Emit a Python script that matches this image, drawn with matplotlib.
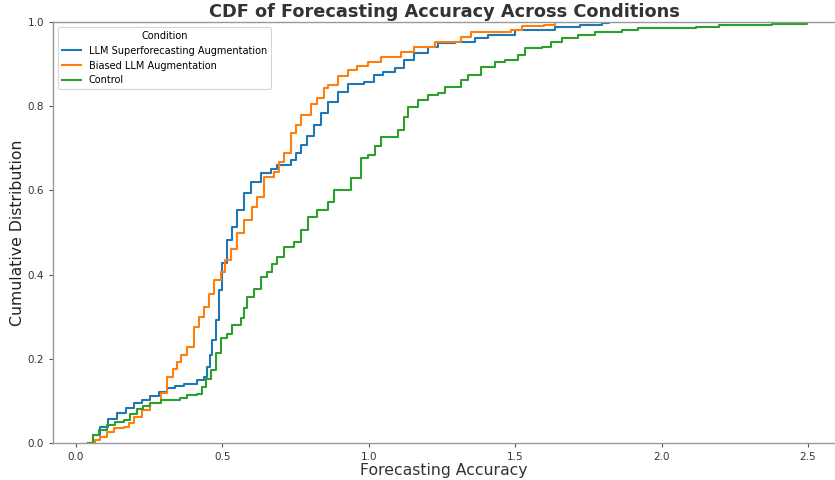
import matplotlib
matplotlib.use("Agg")
import matplotlib.pyplot as plt

# Read-off CDF knots (accuracy value, cumulative share)
conditions = ["LLM Superforecasting Augmentation", "Biased LLM Augmentation", "Control"]
colors = ["#1f77b4", "#ff7f0e", "#2ca02c"]

super_x = [0.043, 0.06, 0.083, 0.11, 0.14, 0.17, 0.197, 0.225, 0.254, 0.285,
           0.312, 0.34, 0.368, 0.414, 0.437, 0.449, 0.458, 0.466, 0.477, 0.488,
           0.5, 0.517, 0.534, 0.551, 0.574, 0.597, 0.631, 0.665, 0.688, 0.734,
           0.75, 0.768, 0.79, 0.814, 0.837, 0.86, 0.894, 0.928, 0.985, 1.019,
           1.05, 1.088, 1.122, 1.156, 1.202, 1.237, 1.293, 1.362, 1.408, 1.499,
           1.636, 1.72, 1.796, 1.82]
super_y = [0, 0.02, 0.039, 0.058, 0.072, 0.083, 0.094, 0.103, 0.112, 0.122,
           0.130, 0.135, 0.140, 0.150, 0.156, 0.181, 0.21, 0.244, 0.292, 0.363,
           0.427, 0.482, 0.514, 0.553, 0.593, 0.621, 0.642, 0.650, 0.660, 0.672,
           0.688, 0.708, 0.73, 0.755, 0.785, 0.811, 0.834, 0.853, 0.858, 0.874,
           0.882, 0.890, 0.910, 0.926, 0.941, 0.951, 0.953, 0.962, 0.970, 0.981,
           0.989, 0.993, 0.997, 1.0]

biased_x = [0.049, 0.065, 0.083, 0.105, 0.129, 0.163, 0.18, 0.197, 0.225, 0.254,
            0.289, 0.312, 0.33, 0.346, 0.36, 0.38, 0.403, 0.42, 0.437, 0.455,
            0.471, 0.494, 0.51, 0.528, 0.55, 0.574, 0.6, 0.620, 0.642, 0.677,
            0.695, 0.711, 0.734, 0.75, 0.768, 0.802, 0.825, 0.848, 0.86, 0.894,
            0.928, 0.96, 0.997, 1.042, 1.111, 1.156, 1.225, 1.316, 1.350, 1.487,
            1.522, 1.6, 1.636]
biased_y = [0, 0.008, 0.015, 0.026, 0.035, 0.037, 0.048, 0.062, 0.078, 0.094,
            0.118, 0.158, 0.175, 0.193, 0.21, 0.229, 0.276, 0.30, 0.324, 0.355,
            0.387, 0.406, 0.435, 0.462, 0.498, 0.530, 0.56, 0.585, 0.633, 0.644,
            0.668, 0.688, 0.736, 0.755, 0.780, 0.805, 0.819, 0.843, 0.85, 0.872,
            0.886, 0.896, 0.906, 0.918, 0.929, 0.941, 0.953, 0.964, 0.977, 0.981,
            0.990, 0.994, 1.0]

control_x = [0.043, 0.060, 0.08, 0.106, 0.135, 0.163, 0.185, 0.209, 0.23, 0.254,
             0.289, 0.357, 0.380, 0.414, 0.432, 0.446, 0.460, 0.477, 0.494, 0.517,
             0.534, 0.563, 0.575, 0.586, 0.608, 0.631, 0.654, 0.671, 0.688, 0.711,
             0.745, 0.768, 0.791, 0.825, 0.860, 0.882, 0.939, 0.974, 0.997, 1.02,
             1.042, 1.099, 1.122, 1.134, 1.168, 1.202, 1.236, 1.259, 1.316, 1.339,
             1.385, 1.430, 1.464, 1.510, 1.533, 1.590, 1.624, 1.659, 1.716, 1.773,
             1.864, 1.921, 2.116, 2.195, 2.378, 2.498]
control_y = [0, 0.019, 0.03, 0.043, 0.050, 0.054, 0.068, 0.082, 0.088, 0.094,
             0.102, 0.106, 0.114, 0.116, 0.134, 0.152, 0.173, 0.213, 0.249, 0.260,
             0.280, 0.296, 0.32, 0.348, 0.367, 0.395, 0.407, 0.425, 0.442, 0.466,
             0.478, 0.506, 0.537, 0.553, 0.573, 0.601, 0.629, 0.676, 0.684, 0.706,
             0.728, 0.743, 0.775, 0.799, 0.815, 0.827, 0.832, 0.846, 0.862, 0.874,
             0.894, 0.906, 0.910, 0.922, 0.938, 0.941, 0.953, 0.961, 0.969, 0.976,
             0.981, 0.985, 0.989, 0.993, 0.996, 1.0]

series = [(super_x, super_y), (biased_x, biased_y), (control_x, control_y)]

fig = plt.figure(figsize=(8.35, 4.8), dpi=100)
ax = fig.add_axes([0.0635, 0.077, 0.9365, 0.877])

for (xs, ys), name, c in zip(series, conditions, colors):
    ax.step(xs, ys, where="post", color=c, lw=1.5, label=name)

ax.set_xlim(-0.078, 2.592)
ax.set_ylim(0, 1.0)
ax.set_xticks([0.0, 0.5, 1.0, 1.5, 2.0, 2.5])
ax.set_yticks([0.0, 0.2, 0.4, 0.6, 0.8, 1.0])

for s in ["left", "bottom", "top"]:
    ax.spines[s].set_color("#999999")
    ax.spines[s].set_linewidth(1.0)
ax.spines["right"].set_visible(False)
ax.tick_params(axis="both", labelsize=7.5, colors="#333333", length=3, width=0.8)
ax.tick_params(axis="both", color="#555555")

ax.set_xlabel("Forecasting Accuracy", fontsize=11.3, color="#333333", labelpad=1)
ax.set_ylabel("Cumulative Distribution", fontsize=11.3, color="#222222", labelpad=2)
ax.set_title("CDF of Forecasting Accuracy Across Conditions", fontsize=12.8,
             fontweight="bold", color="#333333", pad=4)

leg = ax.legend(title="Condition", loc="upper left", fontsize=7.0, title_fontsize=7.0,
                frameon=True, borderpad=0.4, handlelength=2.0,
                bbox_to_anchor=(0.0, 1.0))
leg.get_frame().set_edgecolor("#cccccc")
leg.get_frame().set_linewidth(0.8)

fig.savefig("out.png", dpi=100)
